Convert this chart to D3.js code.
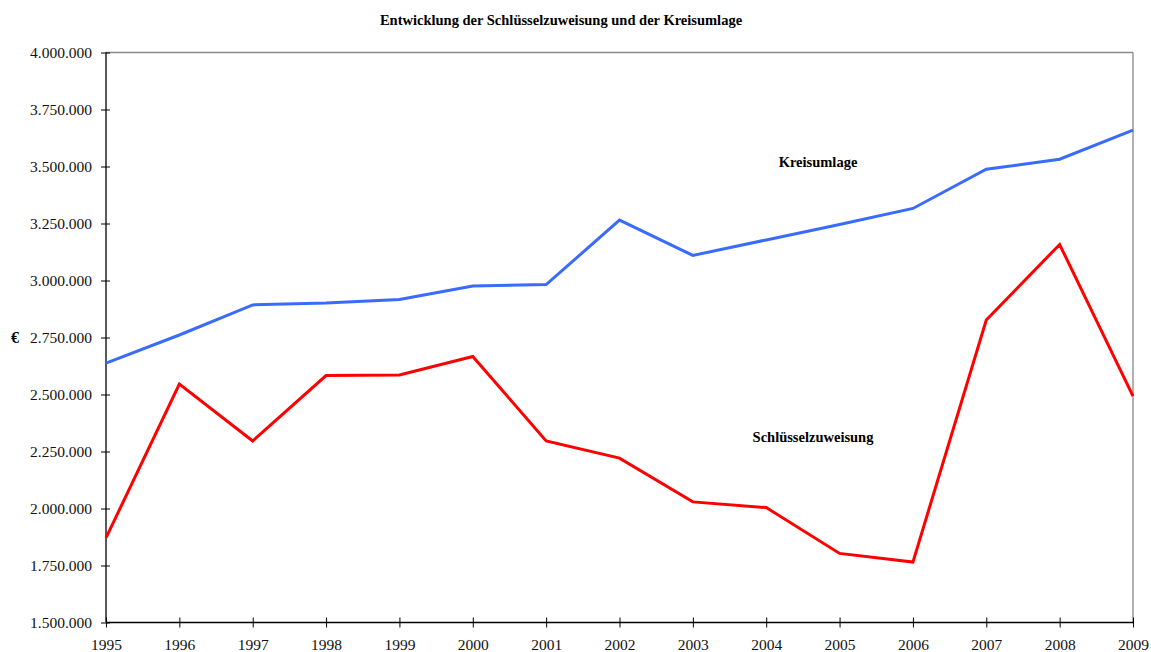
<!DOCTYPE html>
<html>
<head>
<meta charset="utf-8">
<script src="https://cdn.jsdelivr.net/npm/d3@7"></script>
<style>
  body { margin: 0; background: #fff; }
  svg, svg text { font-family: "Liberation Serif", "Times New Roman", serif; }
</style>
</head>
<body>
<div id="chart"></div>
<script>
const years = [1995, 1996, 1997, 1998, 1999, 2000, 2001, 2002, 2003, 2004, 2005, 2006, 2007, 2008, 2009];
const kreisumlage = [2638000, 2761000, 2893000, 2901000, 2917000, 2976000, 2982000, 3265000, 3110000, 3178000, 3246000, 3316000, 3488000, 3532000, 3660000];
const schluessel = [1871000, 2546000, 2296000, 2583000, 2586000, 2667000, 2296000, 2221000, 2029000, 2004000, 1803000, 1765000, 2827000, 3158000, 2493000];
const yTicks = [1500000, 1750000, 2000000, 2250000, 2500000, 2750000, 3000000, 3250000, 3500000, 3750000, 4000000];

const width = 1151, height = 652;
const margin = { top: 52.5, right: 18, bottom: 29.5, left: 106 };

const svg = d3.select('#chart').append('svg')
  .attr('width', width)
  .attr('height', height);

const x = d3.scaleLinear().domain([1995, 2009]).range([margin.left, width - margin.right]);
const y = d3.scaleLinear().domain([1500000, 4000000]).range([height - margin.bottom, margin.top]);

const fmt = v => d3.format(',')(v).replace(/,/g, '.');

// grey frame top / right
svg.append('line')
  .attr('x1', x(1995)).attr('x2', x(2009))
  .attr('y1', y(4000000)).attr('y2', y(4000000))
  .attr('stroke', '#888').attr('stroke-width', 1.3);
svg.append('line')
  .attr('x1', x(2009)).attr('x2', x(2009))
  .attr('y1', y(4000000)).attr('y2', y(1500000))
  .attr('stroke', '#888').attr('stroke-width', 1.3);

// y axis
const yAxis = svg.append('g')
  .attr('transform', `translate(${margin.left},0)`)
  .call(d3.axisLeft(y).tickValues(yTicks).tickFormat(fmt).tickSize(5).tickPadding(9));
yAxis.attr('font-family', 'Liberation Serif');
yAxis.selectAll('.tick line').attr('x1', 4);
yAxis.select('.domain').attr('d', `M0,${y(4000000)}V${y(1500000)}`).attr('stroke-width', 1.3);
yAxis.selectAll('text').attr('font-size', 15.5).attr('fill', '#111');

// x axis
const xAxis = svg.append('g')
  .attr('transform', `translate(0,${y(1500000)})`)
  .call(d3.axisBottom(x).tickValues(years).tickFormat(d3.format('d')).tickSize(5).tickPadding(11));
xAxis.attr('font-family', 'Liberation Serif');
xAxis.selectAll('.tick line').attr('y1', -5);
xAxis.select('.domain').attr('d', `M${x(1995)},0H${x(2009)}`).attr('stroke-width', 1.3);
xAxis.selectAll('text').attr('font-size', 15.5).attr('fill', '#111');

const line = d3.line().x((d, i) => x(years[i])).y(d => y(d));

svg.append('path')
  .datum(kreisumlage)
  .attr('d', line)
  .attr('fill', 'none')
  .attr('stroke', '#3a6bff')
  .attr('stroke-width', 3);

svg.append('path')
  .datum(schluessel)
  .attr('d', line)
  .attr('fill', 'none')
  .attr('stroke', '#ff0000')
  .attr('stroke-width', 3);

// title and labels
svg.append('text')
  .attr('x', 561).attr('y', 25)
  .attr('text-anchor', 'middle')
  .attr('font-size', 14.5).attr('font-weight', 'bold')
  .text('Entwicklung der Schlüsselzuweisung und der Kreisumlage');

svg.append('text')
  .attr('x', 818).attr('y', 167)
  .attr('text-anchor', 'middle')
  .attr('font-size', 14.5).attr('font-weight', 'bold')
  .text('Kreisumlage');

svg.append('text')
  .attr('x', 813).attr('y', 442)
  .attr('text-anchor', 'middle')
  .attr('font-size', 14.5).attr('font-weight', 'bold')
  .text('Schlüsselzuweisung');

svg.append('text')
  .attr('x', 15).attr('y', 343)
  .attr('text-anchor', 'middle')
  .attr('font-size', 16).attr('font-weight', 'bold')
  .text('€');
</script>
</body>
</html>
